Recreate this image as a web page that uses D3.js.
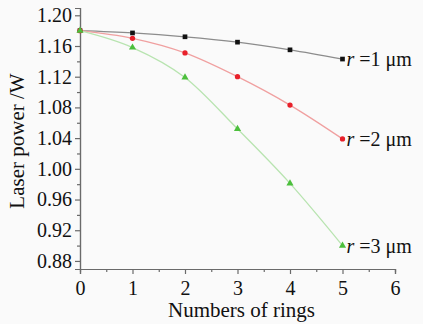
<!DOCTYPE html>
<html>
<head>
<meta charset="utf-8">
<script src="https://cdn.jsdelivr.net/npm/d3@7"></script>
<style>
  body { margin: 0; background: #fafafa; }
  svg text { font-family: "Liberation Serif", "DejaVu Serif", serif !important; }
</style>
</head>
<body>
<div id="chart"></div>
<script>
// data
var rings = [0, 1, 2, 3, 4, 5];
var power1 = [1.180, 1.177, 1.172, 1.165, 1.155, 1.143];
var power2 = [1.180, 1.170, 1.151, 1.120, 1.083, 1.039];
var power3 = [1.180, 1.158, 1.119, 1.052, 0.981, 0.900];
var seriesNames = ["1", "2", "3"];
var xTicks = [0, 1, 2, 3, 4, 5, 6];
var yTicks = [0.88, 0.92, 0.96, 1.00, 1.04, 1.08, 1.12, 1.16, 1.20];

var svgWidth = 423;
var svgHeight = 324;
var margin = { top: 8, right: 28, bottom: 55, left: 80 };
var width = svgWidth - margin.left - margin.right;
var height = svgHeight - margin.top - margin.bottom;

var svg = d3.select("#chart").append("svg")
    .attr("width", svgWidth)
    .attr("height", svgHeight);

svg.append("rect")
    .attr("width", svgWidth)
    .attr("height", svgHeight)
    .attr("fill", "#fafafa");

var chartGroup = svg.append("g")
    .attr("transform", `translate(${margin.left}, ${margin.top})`);

var xScale = d3.scaleLinear().domain([0, 6]).range([0, width]);
var yScale = d3.scaleLinear().domain([0.8695, 1.2095]).range([height, 0]);

// minor ticks first
chartGroup.append("g")
    .attr("class", "axis")
    .attr("transform", `translate(0, ${height})`)
    .call(d3.axisBottom(xScale).tickValues(d3.range(0.5, 6, 1)).tickSize(3).tickFormat(""));
chartGroup.append("g")
    .attr("class", "axis")
    .call(d3.axisLeft(yScale).tickValues(d3.range(0.90, 1.20, 0.04)).tickSize(3).tickFormat(""));

var xAxis = chartGroup.append("g")
    .attr("class", "axis")
    .attr("transform", `translate(0, ${height})`)
    .call(d3.axisBottom(xScale).tickValues(xTicks).tickSize(5).tickPadding(3).tickFormat(d3.format("d")));
var yAxis = chartGroup.append("g")
    .attr("class", "axis")
    .call(d3.axisLeft(yScale).tickValues(yTicks).tickSize(5).tickPadding(3).tickFormat(d3.format(".2f")));

chartGroup.selectAll(".axis path, .axis line")
    .attr("stroke", "#6a6a6a")
    .attr("stroke-width", 1.2);
chartGroup.selectAll(".axis text")
    .attr("font-size", 20)
    .attr("fill", "#111");
xAxis.selectAll("text").attr("dy", "0.9em");

var series = [
    { name: seriesNames[0], values: power1, line: "#8c8c8c", dot: "#111", shape: d3.symbolSquare },
    { name: seriesNames[1], values: power2, line: "#f0a0a0", dot: "#e8202a", shape: d3.symbolCircle },
    { name: seriesNames[2], values: power3, line: "#b8e4b0", dot: "#4cbf3c", shape: d3.symbolTriangle }
];

var line = d3.line()
    .x(function(d, i) { return xScale(rings[i]); })
    .y(function(d) { return yScale(d); })
    .curve(d3.curveMonotoneX);

series.forEach(function(s) {
    chartGroup.append("path")
        .datum(s.values)
        .attr("fill", "none")
        .attr("stroke", s.line)
        .attr("stroke-width", 1.3)
        .attr("d", line);
});

series.forEach(function(s) {
    chartGroup.selectAll(null)
        .data(s.values)
        .enter()
        .append("path")
        .attr("transform", function(d, i) { return `translate(${xScale(rings[i])}, ${yScale(d)})`; })
        .attr("d", d3.symbol().type(s.shape).size(22))
        .attr("fill", s.dot);

    var last = s.values[s.values.length - 1];
    var label = chartGroup.append("text")
        .attr("x", xScale(rings[rings.length - 1]) + 4)
        .attr("y", yScale(last))
        .attr("dy", "0.35em")
        .attr("font-size", 20)
        .attr("fill", "#111");
    label.append("tspan").attr("font-style", "italic").text("r");
    label.append("tspan").text(" =" + s.name + " \u03bcm");
});

// axis titles
chartGroup.append("text")
    .attr("x", width / 2 + 4)
    .attr("y", height + 48)
    .attr("text-anchor", "middle")
    .attr("font-size", 21)
    .attr("fill", "#111")
    .text("Numbers of rings");

chartGroup.append("text")
    .attr("transform", "rotate(-90)")
    .attr("x", -133)
    .attr("y", 24 - margin.left)
    .attr("text-anchor", "middle")
    .attr("font-size", 21)
    .attr("fill", "#111")
    .text("Laser power /W");
</script>
</body>
</html>
